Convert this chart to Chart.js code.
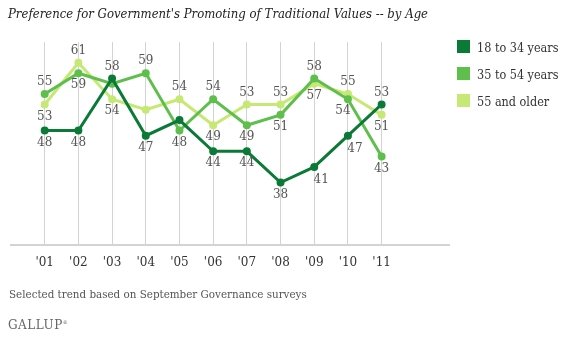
<!DOCTYPE html>
<html>
<head>
<meta charset="utf-8">
<script src="https://cdn.jsdelivr.net/npm/chart.js@4/dist/chart.umd.min.js"></script>
<style>
  body { margin: 0; background: #fff; }
  #wrap { position: relative; width: 564px; height: 341px; overflow: hidden; font-family: "DejaVu Serif Condensed", "DejaVu Serif", Georgia, serif; }
  #chart { position: absolute; left: 0; top: 0; }
  .title { position: absolute; left: 8px; top: 6px; font-size: 13px; font-style: italic; color: #222; white-space: nowrap; }
  .legend { position: absolute; left: 457px; top: 40px; font-size: 12.5px; color: #333; }
  .legend div { height: 27px; display: flex; align-items: flex-start; white-space: nowrap; }
  .legend span.sw { display: inline-block; width: 13px; height: 13px; margin-right: 7px; }
  .note { position: absolute; left: 9px; top: 287px; font-size: 11.5px; color: #555; white-space: nowrap; }
  .brand { position: absolute; left: 8px; top: 318px; font-family: "DejaVu Serif", serif; font-size: 12px; color: #666; letter-spacing: 0.5px; }
  .brand sup { font-size: 5px; }
</style>
</head>
<body>
<div id="wrap">
  <canvas id="chart" width="564" height="341"></canvas>
  <div class="title">Preference for Government's Promoting of Traditional Values -- by Age</div>
  <div class="legend" id="legend"></div>
  <div class="note">Selected trend based on September Governance surveys</div>
  <div class="brand">GALLUP<sup>&reg;</sup></div>
</div>
<script>
const years = ["'01", "'02", "'03", "'04", "'05", "'06", "'07", "'08", "'09", "'10", "'11"]
const young = [48, 48, 58, 47, 50, 44, 44, 38, 41, 47, 53]
const middle = [55, 59, 57, 59, 48, 54, 49, 51, 58, 54, 43]
const older = [53, 61, 54, 52, 54, 49, 53, 53, 57, 55, 51]

// where each value label sits: a = above, b = below, br / bl = below, nudged sideways, '' = no label
const youngLabels = ['b', 'b', 'a', 'b', '', 'b', 'b', 'b', 'br', 'br', 'a']
const middleLabels = ['a', 'b', '', 'a', 'b', 'a', 'b', 'b', 'a', 'bl', 'b']
const olderLabels = ['b', 'a', 'b', '', 'a', 'b', 'a', 'a', 'b', 'a', 'b']

const series = [
  { name: '18 to 34 years', values: young, labels: youngLabels, color: '#0c7a37' },
  { name: '35 to 54 years', values: middle, labels: middleLabels, color: '#5fbf4c' },
  { name: '55 and older', values: older, labels: olderLabels, color: '#c6e874' }
]

const legend = document.getElementById('legend')
series.forEach(s => {
  legend.innerHTML += `<div><span class="sw" style="background:${s.color}"></span>${s.name}</div>`
})

// writes the numbers next to the points
const valueLabels = {
  id: 'valueLabels',
  afterDatasetsDraw(chart) {
    const ctx = chart.ctx
    ctx.save()
    ctx.font = '12px "DejaVu Serif", serif'
    ctx.fillStyle = '#555'
    ctx.textAlign = 'center'
    ctx.textBaseline = 'middle'
    chart.data.datasets.forEach((ds, di) => {
      const meta = chart.getDatasetMeta(di)
      meta.data.forEach((pt, i) => {
        const pos = ds.labelPos[i]
        if (!pos) return
        let dx = 0, dy = pos === 'a' ? -12 : 12
        if (pos === 'br') { dx = 7; dy = 13 }
        if (pos === 'bl') { dx = -5; dy = 12 }
        ctx.fillText(ds.data[i].y, pt.x + dx, pt.y + dy)
      })
    })
    ctx.restore()
  }
}

new Chart(document.getElementById('chart'), {
  type: 'line',
  data: {
    datasets: series.map(s => ({
      label: s.name,
      data: s.values.map((v, i) => ({ x: i, y: v })),
      labelPos: s.labels,
      borderColor: s.color,
      backgroundColor: s.color,
      borderWidth: 3,
      pointRadius: 2.5,
      pointHoverRadius: 2.5,
      tension: 0
    }))
  },
  options: {
    responsive: false,
    animation: false,
    layout: { padding: { left: 9, right: 115, top: 42, bottom: 0 } },
    plugins: { legend: { display: false }, tooltip: { enabled: false } },
    scales: {
      x: {
        type: 'linear',
        min: -1,
        max: 12,
        afterFit: s => { s.height = 96 },
        afterBuildTicks: s => {
          s.ticks = []
          for (let v = -1; v <= 12; v++) s.ticks.push({ value: v })
        },
        ticks: {
          autoSkip: false,
          maxRotation: 0,
          padding: 11,
          color: '#333',
          font: { family: '"DejaVu Serif", serif', size: 12 },
          callback: v => years[v] || ''
        },
        grid: {
          drawTicks: false,
          color: c => (c.tick && c.tick.value >= 0 && c.tick.value <= 10) ? '#d3d3d3' : 'rgba(0,0,0,0)',
          lineWidth: 1
        },
        border: { color: '#d3d3d3', width: 2 }
      },
      y: { display: false, min: 26, max: 65 }
    }
  },
  plugins: [valueLabels]
})
</script>
</body>
</html>
